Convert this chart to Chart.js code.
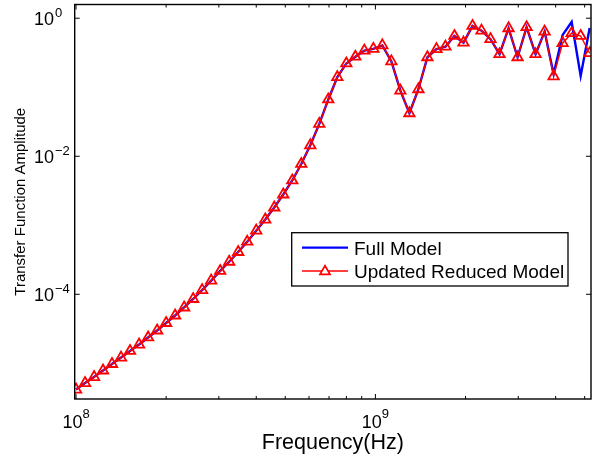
<!DOCTYPE html>
<html>
<head>
<meta charset="utf-8">
<script src="https://cdn.jsdelivr.net/npm/chart.js@4.4.1/dist/chart.umd.min.js"></script>
<style>
  body { margin: 0; background: #fff; }
  canvas { display: block; }
</style>
</head>
<body>
<canvas id="chart" width="594" height="456"></canvas>
<script>
// frequency points (Hz), log spaced
const freqs = [
  1.000e8, 1.072e8, 1.149e8, 1.231e8, 1.319e8, 1.414e8, 1.515e8, 1.624e8, 1.741e8, 1.866e8,
  2.000e8, 2.143e8, 2.297e8, 2.462e8, 2.638e8, 2.828e8, 3.031e8, 3.248e8, 3.481e8, 3.731e8,
  3.999e8, 4.286e8, 4.594e8, 4.923e8, 5.277e8, 5.655e8, 6.061e8, 6.496e8, 6.962e8, 7.462e8,
  7.998e8, 8.571e8, 9.186e8, 9.847e8, 1.055e9, 1.131e9, 1.212e9, 1.299e9, 1.392e9, 1.492e9,
  1.600e9, 1.714e9, 1.837e9, 1.969e9, 2.111e9, 2.262e9, 2.424e9, 2.598e9, 2.785e9, 2.985e9,
  3.199e9, 3.428e9, 3.675e9, 3.938e9, 4.221e9, 4.524e9, 4.849e9, 5.197e9
];

const reducedModel = [
  4.17e-6, 5.18e-6, 6.32e-6, 7.87e-6, 9.77e-6, 1.21e-5, 1.51e-5, 1.87e-5, 2.37e-5, 2.99e-5,
  3.84e-5, 4.93e-5, 6.44e-5, 8.55e-5, 1.15e-4, 1.58e-4, 2.18e-4, 2.96e-4, 4.10e-4, 5.78e-4,
  8.36e-4, 1.21e-3, 1.81e-3, 2.79e-3, 4.46e-3, 7.73e-3, 1.44e-2, 2.94e-2, 6.65e-2, 0.140,
  0.221, 0.277, 0.339, 0.359, 0.404, 0.237, 0.0893, 0.0420, 0.0935, 0.272,
  0.356, 0.387, 0.553, 0.443, 0.773, 0.661, 0.497, 0.301, 0.716, 0.272,
  0.741, 0.301, 0.640, 0.144, 0.435, 0.607, 0.553, 0.311
];

const fullModel = [
  4.17e-6, 5.18e-6, 6.32e-6, 7.87e-6, 9.77e-6, 1.21e-5, 1.51e-5, 1.87e-5, 2.37e-5, 2.99e-5,
  3.84e-5, 4.93e-5, 6.44e-5, 8.55e-5, 1.15e-4, 1.58e-4, 2.18e-4, 2.96e-4, 4.10e-4, 5.78e-4,
  8.36e-4, 1.21e-3, 1.81e-3, 2.79e-3, 4.46e-3, 7.73e-3, 1.44e-2, 2.94e-2, 6.65e-2, 0.140,
  0.221, 0.277, 0.339, 0.359, 0.404, 0.237, 0.0893, 0.0420, 0.0935, 0.272,
  0.356, 0.387, 0.553, 0.443, 0.773, 0.661, 0.497, 0.301, 0.716, 0.272,
  0.741, 0.301, 0.640, 0.155, 0.573, 0.883, 0.146, 0.723
];

const seriesNames = ['Full Model', 'Updated Reduced Model'];
const xMajorTicks = [1e8, 1e9];
const xTickExps = ['8', '9'];
const xMinorTicks = [2e8, 3e8, 4e8, 5e8, 6e8, 7e8, 8e8, 9e8, 2e9, 3e9, 4e9, 5e9];
const yMajorTicks = [1, 1e-2, 1e-4];
const yTickExps = ['0', '\u22122', '\u22124'];
const xTitle = 'Frequency(Hz)';
const yTitle = 'Transfer Function Amplitude';

const FONT = '"Liberation Sans", Arial, Helvetica, sans-serif';
const BLUE = '#0000ff';
const RED = '#ff0000';

function trianglePath(ctx, x, y, r) {
  // same geometry as Chart.js 'triangle' point style
  ctx.beginPath();
  ctx.moveTo(x, y - r);
  ctx.lineTo(x + r * Math.sin(Math.PI * 2 / 3), y + r / 2);
  ctx.lineTo(x - r * Math.sin(Math.PI * 2 / 3), y + r / 2);
  ctx.closePath();
}

const axesPlugin = {
  id: 'matlabAxes',
  afterDraw(chart) {
    const ctx = chart.ctx;
    const a = chart.chartArea;
    const xs = chart.scales.x;
    const ys = chart.scales.y;
    ctx.save();

    // box
    ctx.strokeStyle = '#000';
    ctx.lineWidth = 1.4;
    ctx.strokeRect(a.left, a.top, a.right - a.left, a.bottom - a.top);

    // ticks, pointing inward on all four sides
    ctx.lineWidth = 1;
    ctx.beginPath();
    xMajorTicks.concat(xMinorTicks).forEach((v, i) => {
      const len = i < xMajorTicks.length ? 5 : 3;
      const px = xs.getPixelForValue(v);
      ctx.moveTo(px, a.bottom); ctx.lineTo(px, a.bottom - len);
      ctx.moveTo(px, a.top); ctx.lineTo(px, a.top + len);
    });
    yMajorTicks.forEach(v => {
      const py = ys.getPixelForValue(v);
      ctx.moveTo(a.left, py); ctx.lineTo(a.left + 5, py);
      ctx.moveTo(a.right, py); ctx.lineTo(a.right - 5, py);
    });
    ctx.stroke();

    // tick labels 10^n
    ctx.fillStyle = '#000';
    ctx.textBaseline = 'alphabetic';
    xMajorTicks.forEach((v, i) => {
      const px = xs.getPixelForValue(v);
      ctx.font = '18px ' + FONT;
      const w1 = ctx.measureText('10').width;
      ctx.font = '13px ' + FONT;
      const w2 = ctx.measureText(xTickExps[i]).width;
      const left = px - (w1 + w2) / 2;
      ctx.textAlign = 'left';
      ctx.font = '18px ' + FONT;
      ctx.fillText('10', left, a.bottom + 29);
      ctx.font = '13px ' + FONT;
      ctx.fillText(xTickExps[i], left + w1, a.bottom + 19);
    });
    yMajorTicks.forEach((v, i) => {
      const py = ys.getPixelForValue(v);
      ctx.font = '18px ' + FONT;
      ctx.textAlign = 'right';
      ctx.fillText('10', 54, py + 7);
      ctx.font = '13px ' + FONT;
      ctx.textAlign = 'left';
      ctx.fillText(yTickExps[i], 55, py - 1.5);
    });

    // axis titles
    ctx.textAlign = 'center';
    ctx.font = '21.5px ' + FONT;
    ctx.fillText(xTitle, (a.left + a.right) / 2, 449);
    ctx.save();
    ctx.translate(24.5, (a.top + a.bottom) / 2);
    ctx.rotate(-Math.PI / 2);
    ctx.font = '15px ' + FONT;
    ctx.fillText(yTitle, 0, 0);
    ctx.restore();

    // legend
    const lx = 291.7, ly = 232.7, lw = 276.3, lh = 53.3;
    ctx.fillStyle = '#fff';
    ctx.fillRect(lx, ly, lw, lh);
    ctx.strokeStyle = '#000';
    ctx.lineWidth = 1.3;
    ctx.strokeRect(lx, ly, lw, lh);

    ctx.strokeStyle = BLUE;
    ctx.lineWidth = 2.2;
    ctx.beginPath();
    ctx.moveTo(302, 247.7); ctx.lineTo(348, 247.7);
    ctx.stroke();

    ctx.strokeStyle = RED;
    ctx.lineWidth = 1.4;
    ctx.beginPath();
    ctx.moveTo(302, 271); ctx.lineTo(348, 271);
    ctx.stroke();
    ctx.lineWidth = 1.7;
    trianglePath(ctx, 325, 271.5, 5.8);
    ctx.fillStyle = '#fff';
    ctx.fill();
    ctx.stroke();

    ctx.fillStyle = '#000';
    ctx.textAlign = 'left';
    ctx.font = '19px ' + FONT;
    ctx.fillText(seriesNames[0], 354, 254.5);
    ctx.fillText(seriesNames[1], 354, 278);

    ctx.restore();
  }
};

new Chart(document.getElementById('chart'), {
  type: 'line',
  data: {
    datasets: [
      {
        label: seriesNames[0],
        data: freqs.map((f, i) => ({ x: f, y: fullModel[i] })),
        borderColor: BLUE,
        borderWidth: 2.4,
        pointRadius: 0,
        tension: 0,
        order: 2
      },
      {
        label: seriesNames[1],
        data: freqs.map((f, i) => ({ x: f, y: reducedModel[i] })),
        borderColor: RED,
        borderWidth: 1.4,
        pointStyle: 'triangle',
        pointRadius: 6,
        pointBorderWidth: 1.8,
        pointBorderColor: RED,
        pointBackgroundColor: 'rgba(0,0,0,0)',
        tension: 0,
        order: 1
      }
    ]
  },
  options: {
    responsive: false,
    animation: false,
    layout: { autoPadding: false, padding: { left: 74.7, top: 4.5, right: 3, bottom: 57 } },
    scales: {
      x: { type: 'logarithmic', display: false, min: 0.99e8, max: 5.25e9 },
      y: { type: 'logarithmic', display: false, min: 3.04e-6, max: 1.58 }
    },
    plugins: {
      legend: { display: false },
      tooltip: { enabled: false }
    }
  },
  plugins: [axesPlugin]
});
</script>
</body>
</html>
